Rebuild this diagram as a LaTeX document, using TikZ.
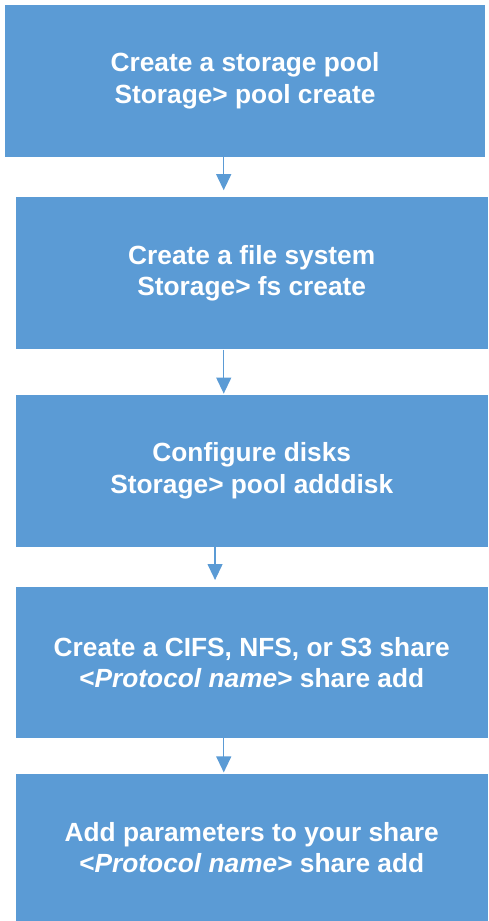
\documentclass[tikz,border=0pt]{standalone}
\usepackage{fontspec}
\setmainfont{Liberation Sans}
\usepackage{tikz}
\usetikzlibrary{positioning,arrows.meta}
\definecolor{stepblue}{HTML}{5B9BD5}

\begin{document}
\begin{tikzpicture}[
    x=1pt, y=-1pt,
    stepbox/.style={fill=stepblue, text=white, align=center, minimum width=472.5pt, minimum height=152pt,
        font=\fontsize{26.3}{31.5}\selectfont\bfseries, inner sep=0pt},
    flow/.style={-{Triangle[length=16pt, width=15pt]}, line width=1.2pt, draw=stepblue},
    node distance=40pt
]
\useasboundingbox (0,0) rectangle (488,921);

% Steps
\node[stepbox, minimum width=480pt] (pool) at (245,81) {Create a storage pool\\Storage> pool create};
\node[stepbox, below=40pt of pool, xshift=6.75pt] (fs) {Create a file system\\Storage> fs create};
\node[stepbox, below=45pt of fs] (disks) {Configure disks\\Storage> pool adddisk};
\node[stepbox, below=40pt of disks, minimum height=151pt] (share) {Create a CIFS, NFS, or S3 share\\<\textit{Protocol name}> share add};
\node[stepbox, below=35pt of share, minimum height=148pt] (params) {Add parameters to your share\\<\textit{Protocol name}> share add};

% Arrows
\draw[flow, shorten >=7pt] ([xshift=-21.3pt]pool.south) -- ([xshift=-21.3pt]pool.south |- fs.north);
\draw[flow, shorten >=1pt] ([xshift=-28pt]fs.south) -- ([xshift=-28pt]fs.south |- disks.north);
\draw[flow, shorten >=7pt] ([xshift=-36.7pt]disks.south) -- ([xshift=-36.7pt]disks.south |- share.north);
\draw[flow, shorten >=1pt] ([xshift=-28pt]share.south) -- ([xshift=-28pt]share.south |- params.north);
\end{tikzpicture}
\end{document}
